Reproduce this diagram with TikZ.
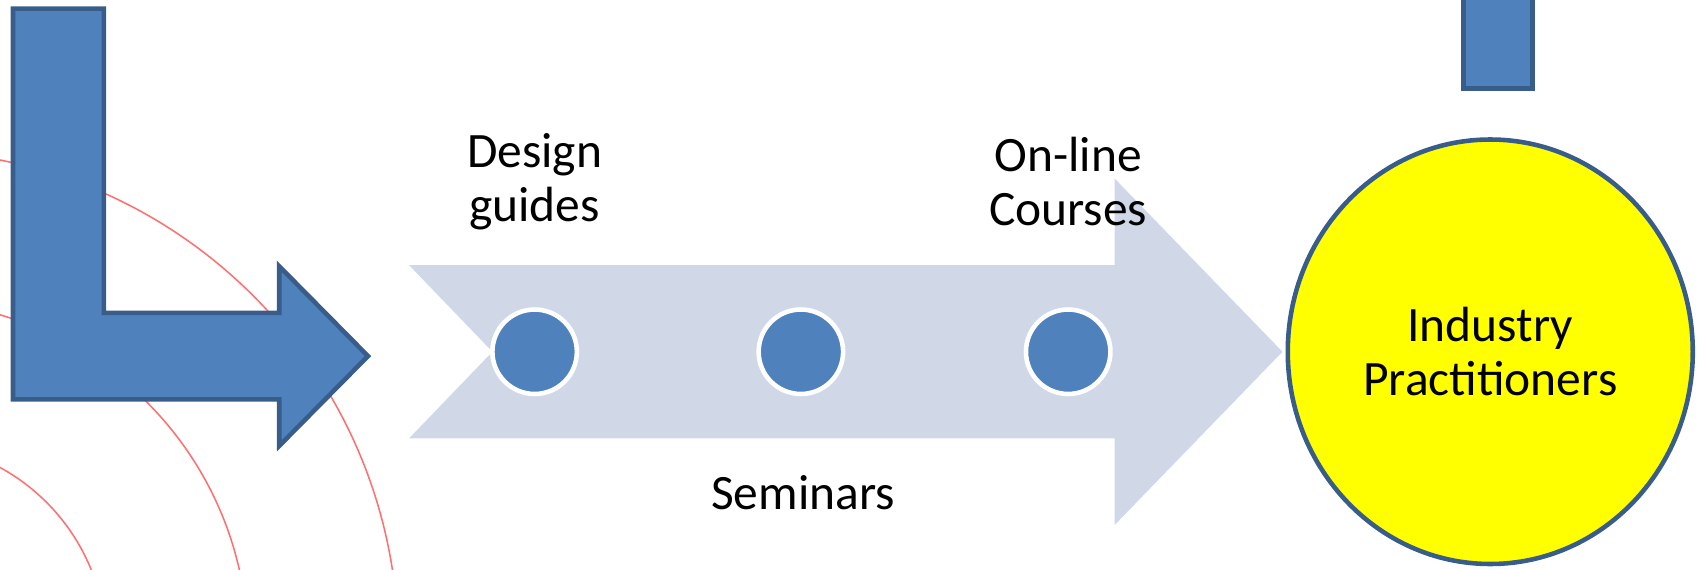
\documentclass[tikz,border=0pt]{standalone}
\usepackage{fontspec}
\setmainfont{Carlito}
\usetikzlibrary{shapes.geometric}
\definecolor{boxblue}{HTML}{4F81BD}
\definecolor{boxline}{HTML}{385D8A}
\definecolor{paleblue}{HTML}{D0D8E8}
\definecolor{ringred}{HTML}{FF6F6F}
\definecolor{hubyellow}{HTML}{FFFF00}
\tikzset{
  stage/.style={circle, fill=boxblue, draw=white, line width=1.2pt, minimum size=0.78cm, inner sep=0pt},
  labeltext/.style={align=center, font=\fontsize{13}{14.2}\selectfont},
  bluebox/.style={fill=boxblue, draw=boxline, line width=1.2pt, line join=miter},
}
\begin{document}
\begin{tikzpicture}[x=0.01cm, y=-0.01cm]
\useasboundingbox (0,0) rectangle (1568,526);

\begin{scope}
\clip (0,0) rectangle (1568,526);
\foreach \r in {188,319,458}
  \draw[ringred, line width=0.4pt] (-90,597) circle (\r);
\draw[bluebox] (1352,-10) rectangle (1416,82);
\end{scope}

\draw[bluebox] (12,8) -- (96,8) -- (96,289) -- (258,289) -- (258,246)
  -- (340,329) -- (258,412) -- (258,369) -- (12,369) -- cycle;

\fill[paleblue] (378,245) -- (1030,245) -- (1030,165) -- (1185,325)
  -- (1030,485) -- (1030,405) -- (378,405) -- (455,325) -- cycle;

\foreach \i/\x in {1/494,2/740,3/987}
  \node[stage] (dot\i) at (\x,325) {};

\node[labeltext] (design) at (494,168) {Design\\guides};
\node[labeltext] (online) at (987,168) {On-line\\Courses};
\node[labeltext] (seminars) at (742,455) {Seminars};

\node[ellipse, fill=hubyellow, draw=boxline, line width=1.2pt,
  minimum width=3.74cm, minimum height=3.92cm, labeltext] (industry) at (1377,325) {Industry\\Practitioners};
\end{tikzpicture}
\end{document}
